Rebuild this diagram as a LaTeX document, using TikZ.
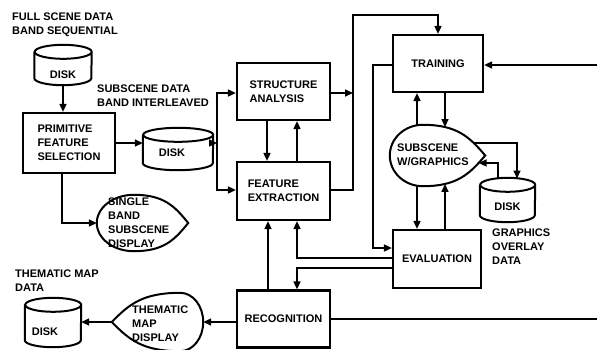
\documentclass[tikz,border=0pt]{standalone}
\usepackage{fontspec}
\setmainfont{Liberation Sans}
\usetikzlibrary{arrows.meta,calc,intersections}
\newcommand\drawdisk[2]{%
  \draw[shp] ([yshift=-7pt]#1.north west) -- ([yshift=7pt]#1.south west)
    arc[start angle=180,end angle=360,x radius=#2,y radius=7pt]
    -- ([yshift=-7pt]#1.north east)
    arc[start angle=0,end angle=360,x radius=#2,y radius=7pt];}
\newcommand\dispR[3]{%
  \draw[shp, name path=#3] let \p1=(#1.west), \p2=(#1.east), \p3=(#1.north), \p4=(#1.south),
    \n1={\x2-\x1-#2}, \n2={\y3-\y4} in
    (\x1+#2,\y3) arc[start angle=90,end angle=270,x radius=#2,y radius={0.5*\n2*1pt}]
    .. controls +({0.55*\n1*1pt},0pt) and +({-0.25*\n1*1pt},{-0.3*\n2*1pt}) .. (\x2,{0.5*\y3+0.5*\y4})
    .. controls +({-0.25*\n1*1pt},{0.3*\n2*1pt}) and +({0.55*\n1*1pt},0pt) .. (\x1+#2,\y3);}
\newcommand\dispL[3]{%
  \draw[shp, name path=#3] let \p1=(#1.west), \p2=(#1.east), \p3=(#1.north), \p4=(#1.south),
    \n1={\x2-#2-\x1}, \n2={\y3-\y4} in
    (\x2-#2,\y3) arc[start angle=90,end angle=-90,x radius=#2,y radius={0.5*\n2*1pt}]
    .. controls +({-0.55*\n1*1pt},0pt) and +({0.25*\n1*1pt},{-0.3*\n2*1pt}) .. (\x1,{0.5*\y3+0.5*\y4})
    .. controls +({0.25*\n1*1pt},{0.3*\n2*1pt}) and +({-0.55*\n1*1pt},0pt) .. (\x2-#2,\y3);}
\begin{document}
\begin{tikzpicture}[x=1pt,y=-1pt,
  every node/.style={font=\bfseries\fontsize{11}{14}\selectfont, inner sep=0pt},
  box/.style={draw, line width=2.2pt, align=left, minimum width=93pt, minimum height=57pt},
  shp/.style={line width=2pt},
  txt/.style={align=left, anchor=north west},
  conn/.style={line width=1.6pt, -{Triangle[length=8pt,width=7pt]}},
  wire/.style={line width=1.6pt}]
\clip (0,0) rectangle (597,349);
% boxes
\node[box, minimum width=92pt, minimum height=60pt] (pfs) at (69,143) {PRIMITIVE\\FEATURE\\SELECTION};
\node[box] (sa) at (283.5,91.5) {STRUCTURE\\ANALYSIS};
\node[box, minimum height=58pt] (fe) at (283.5,191) {FEATURE\\EXTRACTION};
\node[box] (rec) at (283.5,319) {RECOGNITION};
\node[box, minimum width=90pt] (trn) at (438,63.5) {TRAINING};
\node[box, minimum width=88pt, minimum height=58pt] (ev) at (437,259) {EVALUATION};
% disks
\node[minimum width=57pt, minimum height=40pt] (d1) at (63,65) {};
\node (d1t) at ([yshift=-10pt]d1.center) {DISK};
\node[minimum width=70pt, minimum height=42pt] (d2) at (178,149) {};
\node (d2t) at ([xshift=-6pt,yshift=-4pt]d2.center) {DISK};
\node[minimum width=55pt, minimum height=44pt] (d3) at (507.5,200) {};
\node (d3t) at ([yshift=-7pt]d3.center) {DISK};
\node[minimum width=56pt, minimum height=49pt] (d4) at (53,322.5) {};
\node (d4t) at ([xshift=-8pt,yshift=-9pt]d4.center) {DISK};
\drawdisk{d1}{28.5pt}
\drawdisk{d2}{35pt}
\drawdisk{d3}{27.5pt}
\drawdisk{d4}{28pt}
% displays
\node[minimum width=91pt, minimum height=56pt] (sb) at (142.5,223) {};
\node[anchor=west, align=left] (sbt) at (108,223) {SINGLE\\BAND\\SUBSCENE\\DISPLAY};
\node[minimum width=95pt, minimum height=61pt] (sub) at (437.5,155.5) {};
\node[anchor=west, align=left] (subt) at (397,155) {SUBSCENE\\W/GRAPHICS};
\node[minimum width=91pt, minimum height=58pt] (tm) at (157.5,322) {};
\node[anchor=west, align=left] (tmt) at (132,324) {THEMATIC\\MAP\\DISPLAY};
\dispR{sb}{37pt}{sbp}
\dispR{sub}{33pt}{subp}
\dispL{tm}{23pt}{tmp}
% free texts
\node[txt] (l1) at (12,13) {FULL SCENE DATA\\BAND SEQUENTIAL};
\node[txt] (l2) at (97,85) {SUBSCENE DATA\\BAND INTERLEAVED};
\node[txt] (l3) at (15,270) {THEMATIC MAP\\DATA};
\node[txt] (l4) at (492,229) {GRAPHICS\\OVERLAY\\DATA};
% coordinates
\coordinate (b1t) at (217,93);
\coordinate (b1m) at (217,143);
\coordinate (b1b) at (217,190);
\coordinate (b2t) at (353,15);
\coordinate (b2m) at (353,93);
\coordinate (b2b) at (353,190);
\coordinate (rt) at (597,65);
\coordinate (rr) at (597,319);
\coordinate (tl1) at (373,65);
\coordinate (tl2) at (373,248);
\coordinate (e1) at (297,258);
\coordinate (e2) at (297,268);
\coordinate (r1) at (268,0);
\coordinate (sd1) at (517,143);
\coordinate (sd2) at (498,163);
\coordinate (d3a) at (517,178.5);
\coordinate (d3b) at (498,178.5);
% intersections with subscene display
\path[name path=vA] (417,100) -- (417,210);
\path[name path=vB] (445,100) -- (445,210);
\path[name path=hA] (445,143) -- (560,143);
\path[name path=hB] (445,163) -- (560,163);
\path[name intersections={of=vA and subp, sort by=vA, by={sT1,sB1}}];
\path[name intersections={of=vB and subp, sort by=vB, by={sT2,sB2}}];
\path[name intersections={of=hA and subp, by={sR1}}];
\path[name intersections={of=hB and subp, by={sR2}}];
% connectors
\draw[conn] (d1.south) -- (d1.south |- pfs.north);
\draw[conn] (pfs.east) -- (pfs.east -| d2.west);
\draw[conn] (b1m -| d2.east) -- (b1m);
\draw[conn] (b1m) -- (b1t) -- (b1t -| sa.west);
\draw[conn] (b1m) -- (b1b) -- (b1b -| fe.west);
\draw[conn] ([xshift=-16.5pt]sa.south) -- ([xshift=-16.5pt]fe.north);
\draw[conn] ([xshift=13.5pt]fe.north) -- ([xshift=13.5pt]sa.south);
\draw[conn] (b2m -| sa.east) -- (b2m);
\draw[conn] (b2b -| fe.east) -- (b2b) -- (b2t) -| (trn.north);
\draw[conn] (rt) -- (rt -| trn.east);
\draw[conn] (tl1 -| trn.west) -- (tl1) -- (tl2) -- (tl2 -| ev.west);
\draw[conn] (e1 -| ev.west) -- (e1) -- (e1 |- fe.south);
\draw[conn] (e2 -| ev.west) -- (e2) -- (e2 |- rec.north);
\draw[conn] (r1 |- rec.north) -- (r1 |- fe.south);
\draw[conn] (tm.east -| rec.west) -- (tm.east);
\draw[conn] (tm.west) -- (tm.west -| d4.east);
\draw[wire] (rec.east) -- (rec.east -| rr);
\draw[conn] ([xshift=-7pt]pfs.south) |- (sb.west);
\draw[conn] (sT1) -- (sT1 |- trn.south);
\draw[conn] (sT2 |- trn.south) -- (sT2);
\draw[conn] (sB1) -- (sB1 |- ev.north);
\draw[conn] (sB2 |- ev.north) -- (sB2);
\draw[conn] (sR1) -- (sd1) -- (d3a);
\draw[conn] (d3b) -- (sd2) -- (sR2);
\end{tikzpicture}
\end{document}
